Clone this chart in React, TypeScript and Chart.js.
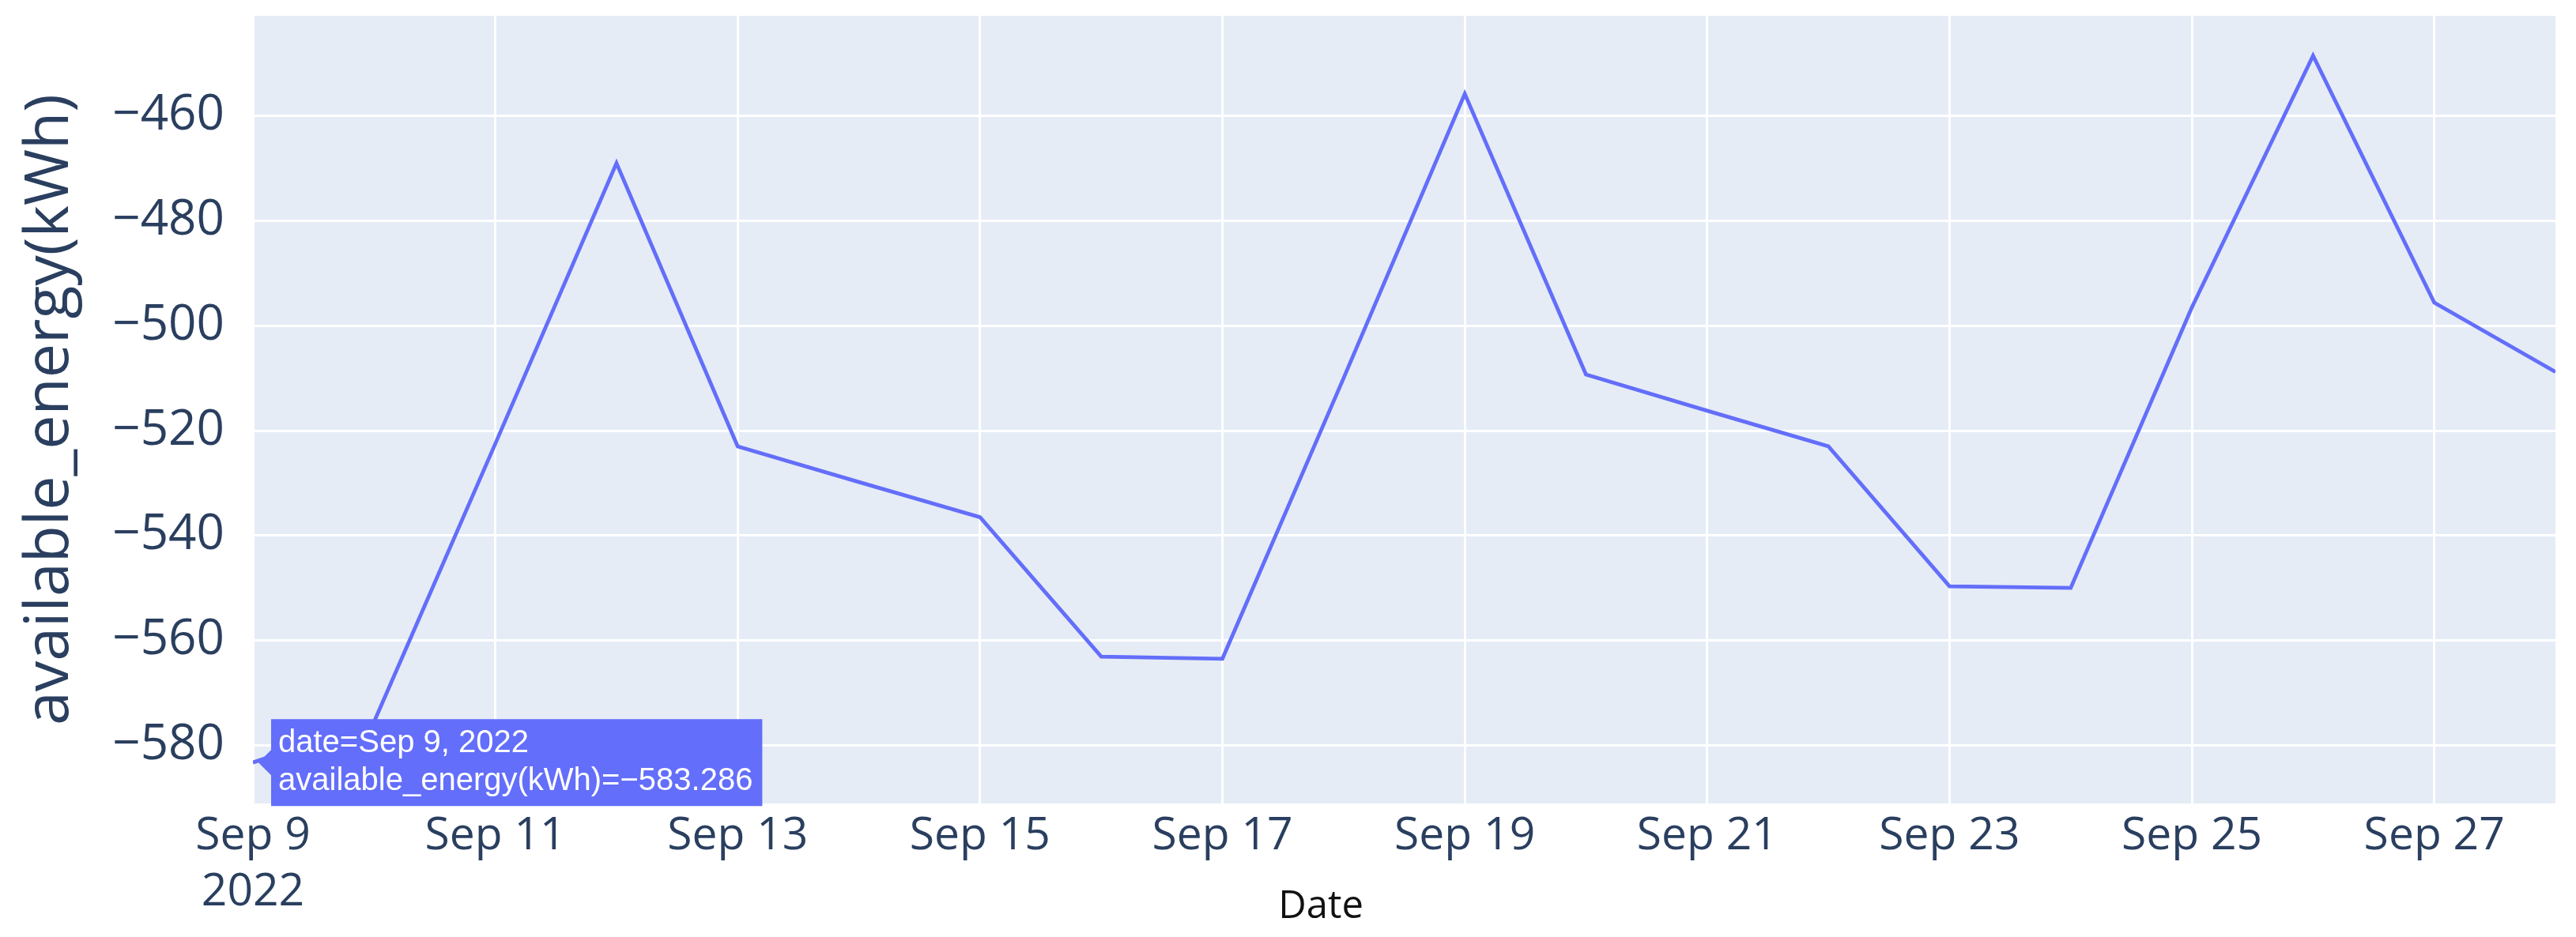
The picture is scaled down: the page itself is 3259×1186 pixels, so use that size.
import React, { useEffect, useRef } from "react";
import { Chart, registerables } from "chart.js";

Chart.register(...registerables);

// ---- data ----
const DATES = [
  "2022-09-09", "2022-09-10", "2022-09-11", "2022-09-12", "2022-09-13",
  "2022-09-14", "2022-09-15", "2022-09-16", "2022-09-17", "2022-09-18",
  "2022-09-19", "2022-09-20", "2022-09-21", "2022-09-22", "2022-09-23",
  "2022-09-24", "2022-09-25", "2022-09-26", "2022-09-27", "2022-09-28",
];
const ENERGY = [
  -583.286, -575.5, -522.5, -469.0, -523.0,
  -529.8, -536.5, -563.1, -563.5, -510.0,
  -455.8, -509.3, -516.2, -523.0, -549.7,
  -550.0, -496.5, -448.5, -495.6, -508.8,
];
const X_TICK_DAYS = [9, 11, 13, 15, 17, 19, 21, 23, 25, 27];
const X_TICK_LABELS: (string | string[])[] = [
  ["Sep 9", "2022"], "Sep 11", "Sep 13", "Sep 15", "Sep 17",
  "Sep 19", "Sep 21", "Sep 23", "Sep 25", "Sep 27",
];
const Y_TICKS = [-580, -560, -540, -520, -500, -480, -460];
const Y_TITLE = "available_energy(kWh)";
const X_TITLE = "Date";
const HOVER_INDEX = 0;

const MONTHS = ["Jan", "Feb", "Mar", "Apr", "May", "Jun", "Jul", "Aug", "Sep", "Oct", "Nov", "Dec"];
const dayOf = (d: string) => Number(d.slice(8, 10));
const fmtDate = (d: string) =>
  `${MONTHS[Number(d.slice(5, 7)) - 1]} ${Number(d.slice(8, 10))}, ${d.slice(0, 4)}`;
const fmtNum = (v: number) => (v < 0 ? "\u2212" + Math.abs(v) : String(v));

const FONT = "'Open Sans', 'DejaVu Sans', sans-serif";
const TICK_COLOR = "#2a3f5f";
const LINE_COLOR = "#636efa";

const bgPlugin = {
  id: "plotBg",
  beforeDraw(chart: any) {
    const { ctx, chartArea } = chart;
    if (!chartArea) return;
    ctx.save();
    ctx.fillStyle = "#e5ecf6";
    ctx.fillRect(chartArea.left, chartArea.top, chartArea.right - chartArea.left, chartArea.bottom - chartArea.top);
    ctx.restore();
  },
};

const xTitlePlugin = {
  id: "xTitle",
  afterDraw(chart: any) {
    const { ctx, chartArea } = chart;
    ctx.save();
    ctx.font = `49px ${FONT}`;
    ctx.fillStyle = "#111111";
    ctx.textAlign = "center";
    ctx.textBaseline = "alphabetic";
    const x = chartArea.left + (chartArea.right - chartArea.left) * 0.4638;
    ctx.fillText(X_TITLE, x, chartArea.bottom + 145);
    ctx.restore();
  },
};

export default function App() {
  const ref = useRef<HTMLCanvasElement | null>(null);

  useEffect(() => {
    if (!ref.current) return;
    const points = DATES.map((d, i) => ({ x: dayOf(d), y: ENERGY[i] }));
    const chart = new Chart(ref.current, {
      type: "line",
      data: {
        datasets: [
          {
            label: Y_TITLE,
            data: points,
            borderColor: LINE_COLOR,
            backgroundColor: LINE_COLOR,
            borderWidth: 4.8,
            pointRadius: 0,
            pointHoverRadius: 0,
            tension: 0,
            fill: false,
          },
        ],
      },
      options: {
        responsive: false,
        animation: false,
        events: [],
        layout: { padding: { left: 0, right: 18, top: 12, bottom: 0 } },
        plugins: {
          legend: { display: false },
          title: { display: false },
          tooltip: {
            enabled: true,
            xAlign: "left",
            yAlign: "center",
            backgroundColor: LINE_COLOR,
            bodyColor: "#ffffff",
            bodyFont: { family: "'Liberation Sans', Arial, sans-serif", size: 40, lineHeight: 1.2 },
            bodySpacing: 0,
            padding: { left: 9, right: 12, top: 7, bottom: 7 },
            cornerRadius: 0,
            caretSize: 16,
            caretPadding: 7,
            displayColors: false,
            callbacks: {
              title: () => [],
              label: (ctx: any) => [
                `date=${fmtDate(DATES[ctx.dataIndex])}`,
                `${Y_TITLE}=${fmtNum(ENERGY[ctx.dataIndex])}`,
              ],
            },
          },
        },
        scales: {
          x: {
            type: "linear",
            min: dayOf(DATES[0]),
            max: dayOf(DATES[DATES.length - 1]),
            afterBuildTicks: (s: any) => {
              s.ticks = X_TICK_DAYS.map((v) => ({ value: v }));
            },
            afterFit: (s: any) => {
              s.height = 161;
              s.paddingLeft = 0;
              s.paddingRight = 0;
            },
            grid: { color: "#ffffff", lineWidth: 3, drawTicks: false },
            border: { display: false },
            ticks: {
              autoSkip: false,
              maxRotation: 0,
              minRotation: 0,
              padding: 6,
              color: TICK_COLOR,
              font: { family: FONT, size: 57, lineHeight: 1.25 },
              callback: (v: any) => {
                const i = X_TICK_DAYS.indexOf(Number(v));
                return i >= 0 ? X_TICK_LABELS[i] : "";
              },
            },
          },
          y: {
            type: "linear",
            min: -591.1,
            max: -440.9,
            afterBuildTicks: (s: any) => {
              s.ticks = Y_TICKS.map((v) => ({ value: v }));
            },
            afterFit: (s: any) => {
              s.width = 312;
              s.paddingTop = 0;
              s.paddingBottom = 0;
            },
            grid: { color: "#ffffff", lineWidth: 3, drawTicks: false },
            border: { display: false },
            ticks: {
              padding: 36,
              color: TICK_COLOR,
              font: { family: FONT, size: 62 },
              callback: (v: any) => fmtNum(Number(v)),
            },
            title: {
              display: true,
              text: Y_TITLE,
              color: TICK_COLOR,
              font: { family: FONT, size: 77, lineHeight: 1.2 },
              padding: { top: 10, bottom: 0 },
            },
          },
        },
      },
      plugins: [bgPlugin, xTitlePlugin],
    } as any);

    const meta = chart.getDatasetMeta(0);
    const pt: any = meta.data[HOVER_INDEX];
    if (pt) {
      chart.tooltip?.setActiveElements([{ datasetIndex: 0, index: HOVER_INDEX }], { x: pt.x, y: pt.y });
      chart.update();
    }

    return () => chart.destroy();
  }, []);

  return (
    <div style={{ width: 3243, height: 1170, position: "relative" }}>
      <canvas ref={ref} width={3243} height={1170} />
    </div>
  );
}
